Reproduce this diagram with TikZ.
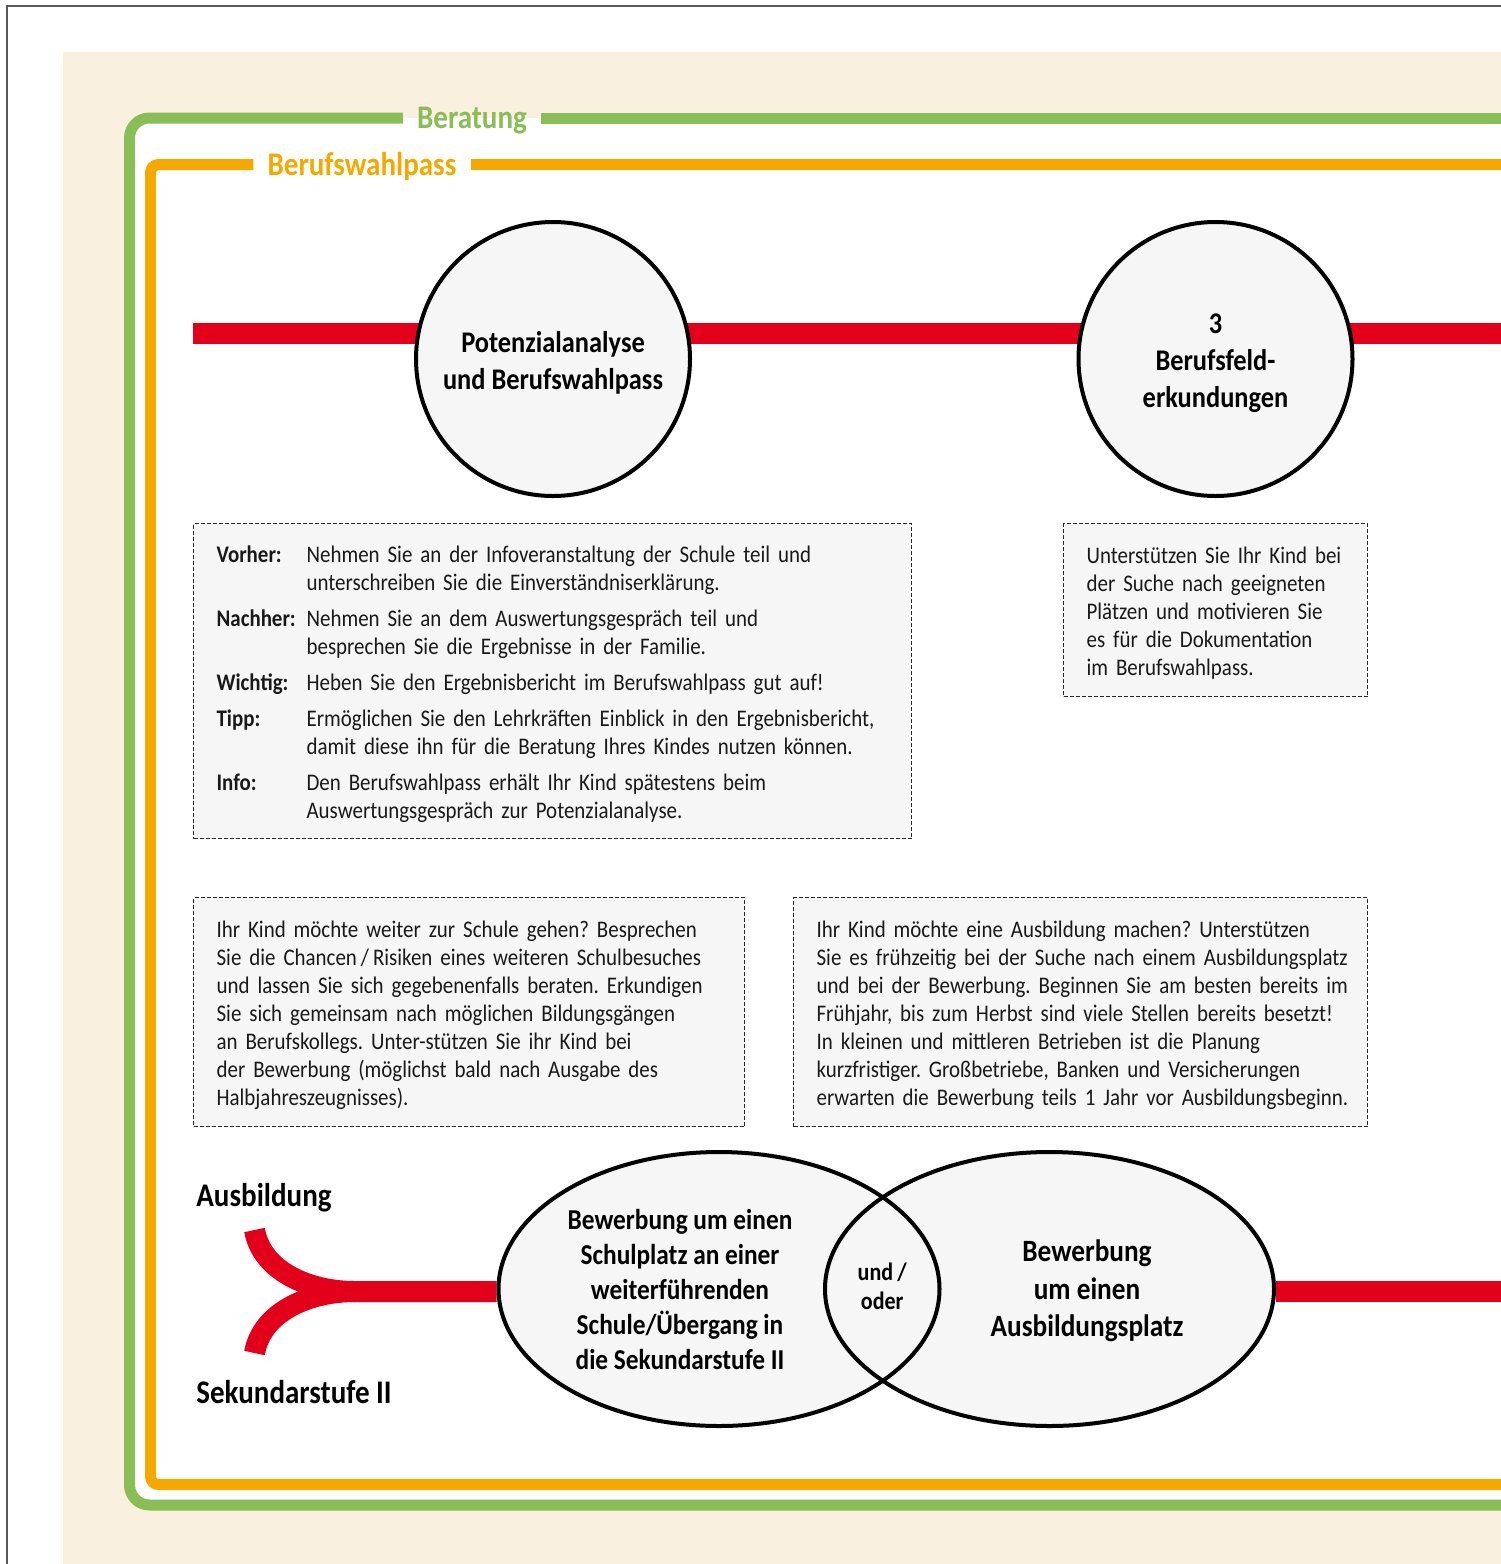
\documentclass[tikz,border=0pt]{standalone}
\usepackage{fontspec}
\setmainfont[FakeStretch=0.88]{Carlito}
\usepackage{tikz}
\usetikzlibrary{shapes.geometric,positioning,calc}
\frenchspacing
\definecolor{bwBeige}{HTML}{F9F0DF}
\definecolor{bwGreen}{HTML}{89BD56}
\definecolor{bwOrange}{HTML}{F5A800}
\definecolor{bwRed}{HTML}{E2001A}
\definecolor{bwGrey}{HTML}{F6F6F6}
\pgfdeclarelayer{paper}
\pgfdeclarelayer{rails}
\pgfsetlayers{paper,rails,main}
% lower the rows a little inside their dashed box
\newcommand{\hintrows}[1]{\raisebox{-2pt}[\height][\depth]{#1}}
\tikzset{
  station/.style    = {circle, draw=black, line width=2pt, fill=bwGrey, minimum size=137pt, inner sep=0pt},
  stationtext/.style= {align=center, inner sep=0pt, font=\fontsize{15}{18.5}\selectfont\bfseries},
  choice/.style     = {ellipse, draw=black, line width=2pt, inner sep=0pt},
  hint/.style       = {rectangle, draw=black!85, line width=0.6pt, dash pattern=on 2pt off 1pt,
                       fill=bwGrey, anchor=north west, inner xsep=11.5pt, inner ysep=0pt,
                       align=left, text=black!90, font=\fontsize{11.9}{14}\selectfont},
  choicetext/.style = {align=center, inner sep=0pt, font=\fontsize{14.4}{17.5}\selectfont\bfseries},
  track/.style      = {bwRed, line width=10.5pt},
  frame/.style      = {line width=5.5pt},
  framelabel/.style = {font=\fontsize{16.5}{20}\selectfont\bfseries, inner xsep=7pt, inner ysep=0pt,
                       text depth=0pt, anchor=base},
  branch/.style     = {font=\fontsize{16.5}{20}\selectfont\bfseries, anchor=base west, inner sep=0pt},
}
\begin{document}
\begin{tikzpicture}[x=0.5pt,y=-0.5pt]
  \useasboundingbox (0,0) rectangle (1500,1564);
  \begin{pgfonlayer}{paper}
    \fill[bwBeige] (63,52) rectangle (1510,1570);
    \draw[gray!70!black, line width=0.7pt] (7,1570) -- (7,6) -- (1510,6);
    \fill[white, rounded corners=10pt] (129.5,118) rectangle (1510,1505);
  \end{pgfonlayer}

  % frames
  \node[framelabel, text=bwGreen] (beratung) at (472,128) {Beratung};
  \node[framelabel, text=bwOrange] (bwpass) at (362,175) {Berufswahlpass};
  \coordinate (gTop) at (129.5,118);
  \coordinate (oTop) at (150.5,164.5);
  \draw[frame, bwGreen, rounded corners=10pt] (beratung.west |- gTop) -- (gTop) -- (129.5,1505) -- (1510,1505);
  \draw[frame, bwGreen] (beratung.east |- gTop) -- (1510,118);
  \draw[frame, bwOrange, rounded corners=4pt] (bwpass.west |- oTop) -- (oTop) -- (150.5,1484.5) -- (1510,1484.5);
  \draw[frame, bwOrange] (bwpass.east |- oTop) -- (1510,164.5);

  % stations on the upper track
  \node[station] (pa) at (553,359) {};
  \node[station] (bfe) at (1215.5,359) {};
  \node[stationtext] (paTxt) at ([yshift=-1.75pt]pa.center) {Potenzialanalyse\\und Berufswahlpass};
  \node[stationtext] (bfeTxt) at ([yshift=-2.25pt]bfe.center) {3\\Berufsfeld-\\erkundungen};
  \coordinate (trackL) at (193,333);
  \coordinate (trackR) at (1510,333);

  \node[hint, minimum width=359pt, minimum height=157.5pt, text width=336pt] (paInfo) at (193,523) {%
    \hintrows{\begin{tabular}{@{}p{45pt}@{}l@{}}
      \textbf{Vorher:}  & Nehmen Sie an der Infoveranstaltung der Schule teil und\\
                        & unterschreiben Sie die Einverständniserklärung.\\[4pt]
      \textbf{Nachher:} & Nehmen Sie an dem Auswertungsgespräch teil und\\
                        & besprechen Sie die Ergebnisse in der Familie.\\[4pt]
      \textbf{Wichtig:} & Heben Sie den Ergebnisbericht im Berufswahlpass gut auf!\\[4pt]
      \textbf{Tipp:}    & Ermöglichen Sie den Lehrkräften Einblick in den Ergebnisbericht,\\
                        & damit diese ihn für die Beratung Ihres Kindes nutzen können.\\[4pt]
      \textbf{Info:}    & Den Berufswahlpass erhält Ihr Kind spätestens beim\\
                        & Auswertungsgespräch zur Potenzialanalyse.
    \end{tabular}}};
  \node[hint, minimum width=152pt, minimum height=86.5pt, text width=129pt] (bfeInfo) at (1063,523) {%
    \hintrows{\begin{tabular}{@{}l@{}}
      Unterstützen Sie Ihr Kind bei\\
      der Suche nach geeigneten\\
      Plätzen und motivieren Sie\\
      es für die Dokumentation\\
      im Berufswahlpass.
    \end{tabular}}};
  \node[hint, minimum width=275.5pt, minimum height=114.5pt, text width=252.5pt] (schulInfo) at (193,897) {%
    \hintrows{\begin{tabular}{@{}l@{}}
      Ihr Kind möchte weiter zur Schule gehen? Besprechen\\
      Sie die Chancen\,/\,Risiken eines weiteren Schulbesuches\\
      und lassen Sie sich gegebenenfalls beraten. Erkundigen\\
      Sie sich gemeinsam nach möglichen Bildungsgängen\\
      an Berufskollegs. Unter-stützen Sie ihr Kind bei\\
      der Bewerbung (möglichst bald nach Ausgabe des\\
      Halbjahreszeugnisses).
    \end{tabular}}};
  \node[hint, minimum width=287pt, minimum height=114.5pt, text width=264pt] (ausbInfo) at (793,897) {%
    \hintrows{\begin{tabular}{@{}l@{}}
      Ihr Kind möchte eine Ausbildung machen? Unterstützen\\
      Sie es frühzeitig bei der Suche nach einem Ausbildungsplatz\\
      und bei der Bewerbung. Beginnen Sie am besten bereits im\\
      Frühjahr, bis zum Herbst sind viele Stellen bereits besetzt!\\
      In kleinen und mittleren Betrieben ist die Planung\\
      kurzfristiger. Großbetriebe, Banken und Versicherungen\\
      erwarten die Bewerbung teils 1 Jahr vor Ausbildungsbeginn.
    \end{tabular}}};

  % choice after the fork
  \node[choice, minimum width=220.5pt, minimum height=137pt] (schule) at (719,1289) {};
  \node[choice, minimum width=224.5pt, minimum height=137pt] (ausb) at (1049.5,1289) {};
  \node[choicetext] (schuleTxt) at ([xshift=-19.5pt]schule.center)
    {Bewerbung um einen\\Schulplatz an einer\\weiterführenden\\Schule/Übergang in\\die Sekundarstufe II};
  \node[choicetext, font=\fontsize{15.5}{18.75}\selectfont\bfseries] (ausbTxt) at ([xshift=18.75pt,yshift=-1pt]ausb.center)
    {Bewerbung\\um einen\\Ausbildungsplatz};
  \node[choicetext, font=\fontsize{12.5}{14.5}\selectfont\bfseries] (lens) at ([yshift=1.5pt]$(schule.east)!0.5!(ausb.west)$)
    {und\,/\\oder};

  \node[branch] (ausbLbl) at (196,1206) {Ausbildung};
  \node[branch] (sekLbl) at (196,1403) {Sekundarstufe II};
  \coordinate (armUp) at (254.5,1230);
  \coordinate (armDown) at (254.5,1353);
  \coordinate (forkJoin) at (355,1291.5);

  \begin{pgfonlayer}{rails}
    \draw[track] (trackL) -- (trackL -| pa.center) -- (trackL -| bfe.center) -- (trackR);
    \draw[track] (armUp) .. controls (262,1272) and (310,1291.5) .. (forkJoin) -- (schule.west |- forkJoin);
    \draw[track] (armDown) .. controls (262,1311) and (310,1291.5) .. (forkJoin);
    \draw[track] (ausb.east |- forkJoin) -- (1510,1291.5);
    \fill[bwGrey] (schule.center) ellipse [x radius=110.25pt, y radius=68.5pt];
    \fill[bwGrey] (ausb.center) ellipse [x radius=112.25pt, y radius=68.5pt];
  \end{pgfonlayer}
\end{tikzpicture}
\end{document}
